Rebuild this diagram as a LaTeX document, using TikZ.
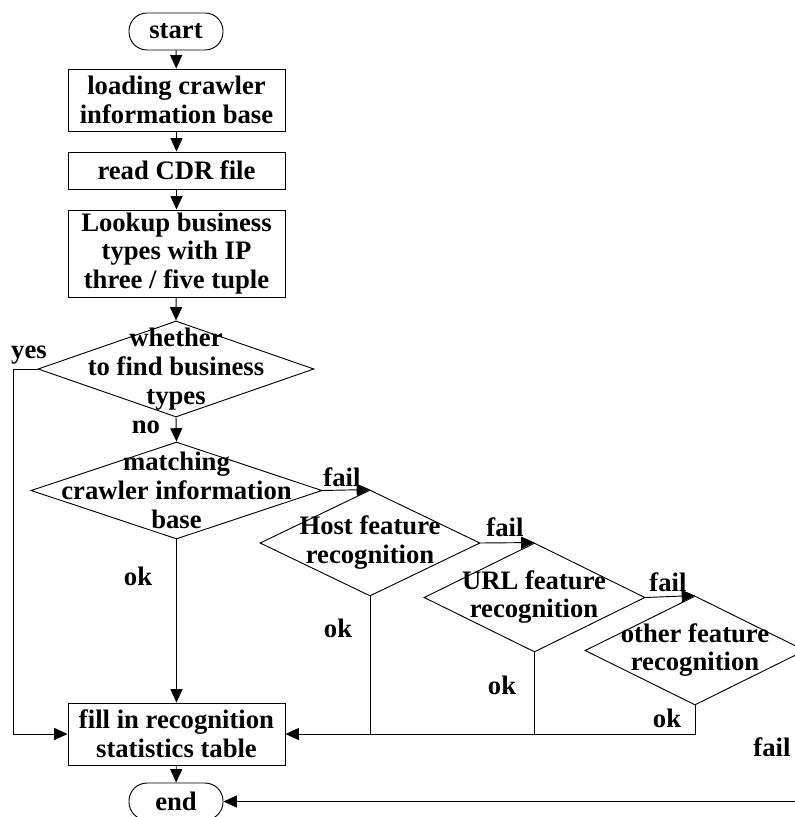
\documentclass[tikz,border=0pt]{standalone}
\usepackage{fontspec}
\setmainfont{Liberation Serif}
\usetikzlibrary{shapes.geometric,arrows.meta}
\begin{document}
\begin{tikzpicture}[
            x=0.75pt,
            y=-0.75pt,
            line width=0.7pt,
            font=\bfseries\fontsize{20}{21.5}\selectfont,
            term/.style={draw, rectangle, rounded corners=13.5pt, inner sep=0pt,
                minimum width=94*0.75pt, minimum height=37*0.75pt},
            proc/.style={draw, rectangle, inner sep=0pt, align=center,
                minimum width=217*0.75pt},
            decision/.style={draw, diamond, inner sep=0pt},
            txt/.style={inner sep=0pt, align=center},
            arrow/.style={-{Triangle[length=10pt,width=9pt]}}
        ]
        \useasboundingbox (0,0) rectangle (795,817);

        \node[term] (start) at (176,31.5) {start};
        \node[proc, minimum height=62*0.75pt] (load) at (176.5,100) {loading crawler\\information base};
        \node[proc, minimum height=37*0.75pt] (read) at (176.5,170.5) {read CDR file};
        \node[proc, minimum height=87*0.75pt] (lookup) at (176.5,253.5) {Lookup business\\types with IP\\three / five tuple};

        \node[decision, minimum width=276*0.75pt, minimum height=96*0.75pt] (find) at (176,369) {};
        \node[txt] (findtxt) at (find) {whether\\to find business\\types};
        \node[decision, minimum width=291*0.75pt, minimum height=97*0.75pt] (match) at (176.5,490.5) {};
        \node[txt] (matchtxt) at (match) {matching\\crawler information\\base};
        \node[decision, minimum width=220*0.75pt, minimum height=106*0.75pt] (host) at (370,543) {};
        \node[txt] (hosttxt) at (370,542.5) {Host feature\\recognition};
        \node[decision, minimum width=221*0.75pt, minimum height=109*0.75pt] (url) at (534.5,597.5) {};
        \node[txt] (urltxt) at (534,597) {URL feature\\recognition};
        \node[decision, minimum width=220*0.75pt, minimum height=109*0.75pt] (other) at (695,650.5) {};
        \node[txt] (othertxt) at (695,650) {other feature\\recognition};

        \node[proc, minimum height=62*0.75pt] (fill) at (176.5,734) {fill in recognition\\statistics table};
        \node[term] (end) at (176,801.5) {end};

        % branch labels
        \node[txt] (yes) at (29,355) {yes};
        \node[txt] (no) at (146,427) {no};
        \node[txt] (fail1) at (342,477) {fail};
        \node[txt] (ok1) at (138,576) {ok};
        \node[txt] (fail2) at (505,527) {fail};
        \node[txt] (ok2) at (338,628) {ok};
        \node[txt] (fail3) at (668,582) {fail};
        \node[txt] (ok3) at (502,685) {ok};
        \node[txt] (ok4) at (667,718) {ok};
        \node[txt] (fail4) at (772,747) {fail};

        \coordinate (yescorner) at (13,369);
        \coordinate (failcorner) at (815,650.5);

        \draw[arrow] (start) -- (load);
        \draw[arrow] (load) -- (read);
        \draw[arrow] (read) -- (lookup);
        \draw[arrow] (lookup) -- (find.north);
        \draw[arrow] (find.south) -- (match.north);
        \draw[arrow] (match.south) -- (fill.north);
        \draw[arrow] (find.west) -- (yescorner) |- (fill.west);
        \draw[arrow] (match.east) -- (host.north);
        \draw[arrow] (host.east) -- (url.north);
        \draw[arrow] (url.east) -- (other.north);
        \draw (host.south) -- (host.south |- fill.east);
        \draw (url.south) -- (url.south |- fill.east);
        \draw[arrow] (other.south) |- (fill.east);
        \draw[arrow] (fill) -- (end);
        \draw[arrow] (other.east) -- (failcorner) |- (end.east);
    \end{tikzpicture}
\end{document}
